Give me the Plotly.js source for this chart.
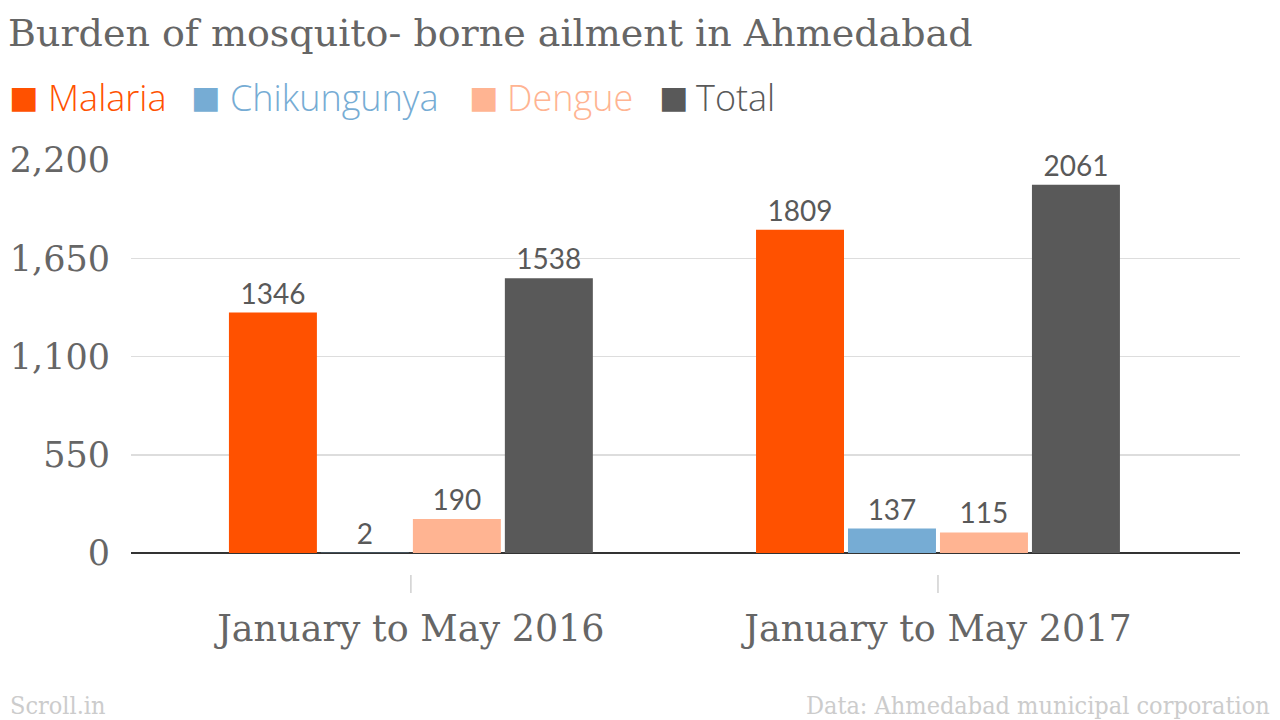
<!DOCTYPE html>
<html>
<head>
<meta charset="utf-8">
<script src="https://cdn.plot.ly/plotly-3.0.1.min.js"></script>
<style>html,body{margin:0;padding:0;background:#fff;}#chart{width:1280px;height:720px;}</style>
</head>
<body>
<div id="chart"></div>
<script>
const categories = ["January to May 2016", "January to May 2017"];
const seriesNames = ["Malaria", "Chikungunya", "Dengue", "Total"];
const malaria = [1346, 1809];
const chikungunya = [2, 137];
const dengue = [190, 115];
const total = [1538, 2061];
const yTicks = [0, 550, 1100, 1650, 2200];
const colors = ["#ff5100", "#76acd4", "#ffb492", "#595959"];
const values = [malaria, chikungunya, dengue, total];

const traces = values.map((v, i) => ({
  type: "bar",
  name: seriesNames[i],
  x: categories,
  y: v,
  marker: {color: colors[i]},
  text: v.map(String),
  textposition: "outside",
  textfont: {family: "Lato", size: 28, color: "#595959"},
  cliponaxis: false,
  showlegend: false,
  hoverinfo: "none"
}));

// plot area in pixels
const L = 131, R = 40, T = 160, B = 167;
const W = 1280 - L - R, H = 720 - T - B;
const px = x => (x - L) / W;
const py = y => (720 - B - y) / H;

const legendPos = [[10, 46], [192, 228], [470, 505], [660, 694]];
const annotations = [];
seriesNames.forEach((n, i) => {
  annotations.push({
    xref: "paper", yref: "paper", x: px(legendPos[i][0] - 3), y: py(97),
    xanchor: "left", yanchor: "middle", showarrow: false,
    text: "■", font: {family: "DejaVu Sans", size: 31, color: colors[i]}
  });
  annotations.push({
    xref: "paper", yref: "paper", x: px(legendPos[i][1]), y: py(97),
    xanchor: "left", yanchor: "middle", showarrow: false,
    text: n, font: {family: "Open Sans", size: 36, color: colors[i], weight: 300}
  });
});
annotations.push({
  xref: "paper", yref: "paper", x: px(8), y: py(705), xanchor: "left", yanchor: "middle",
  showarrow: false, text: "Scroll.in",
  font: {family: "DejaVu Serif Condensed, DejaVu Serif", size: 25, color: "#cccccc"}
});
annotations.push({
  xref: "paper", yref: "paper", x: px(1272), y: py(705), xanchor: "right", yanchor: "middle",
  showarrow: false, text: "Data: Ahmedabad municipal corporation",
  font: {family: "DejaVu Serif Condensed, DejaVu Serif", size: 25, color: "#cccccc"}
});

const shapes = categories.map(c => ({
  type: "line", xref: "x", yref: "paper", x0: c, x1: c, y0: py(575), y1: py(593),
  line: {color: "#d0d0d0", width: 1.5}
}));

const layout = {
  width: 1280, height: 720,
  margin: {l: L, r: R, t: T, b: B},
  paper_bgcolor: "#ffffff", plot_bgcolor: "#ffffff",
  title: {
    text: "Burden of mosquito- borne ailment in Ahmedabad",
    x: 8 / 1280, xanchor: "left", xref: "container",
    y: 1 - 33 / 720, yanchor: "middle", yref: "container",
    font: {family: "DejaVu Serif", size: 38, color: "#666666"}
  },
  barmode: "group",
  bargap: 0.302,
  bargroupgap: 0.0435,
  xaxis: {
    type: "category",
    range: [-0.531, 1.573],
    showgrid: false, zeroline: false, showline: false, ticks: "",
    ticklabelstandoff: 50,
    tickfont: {family: "DejaVu Serif", size: 36.5, color: "#666666"}
  },
  yaxis: {
    range: [0, 2200],
    tickvals: yTicks,
    tickformat: ",",
    showgrid: true, gridcolor: "#dddddd", gridwidth: 1.5,
    zeroline: true, zerolinecolor: "#333333", zerolinewidth: 2,
    showline: false, ticks: "",
    ticklabelstandoff: 20,
    tickfont: {family: "DejaVu Serif", size: 35, color: "#666666"}
  },
  annotations: annotations,
  shapes: shapes
};

Plotly.newPlot("chart", traces, layout, {displayModeBar: false, staticPlot: true});
</script>
</body>
</html>
